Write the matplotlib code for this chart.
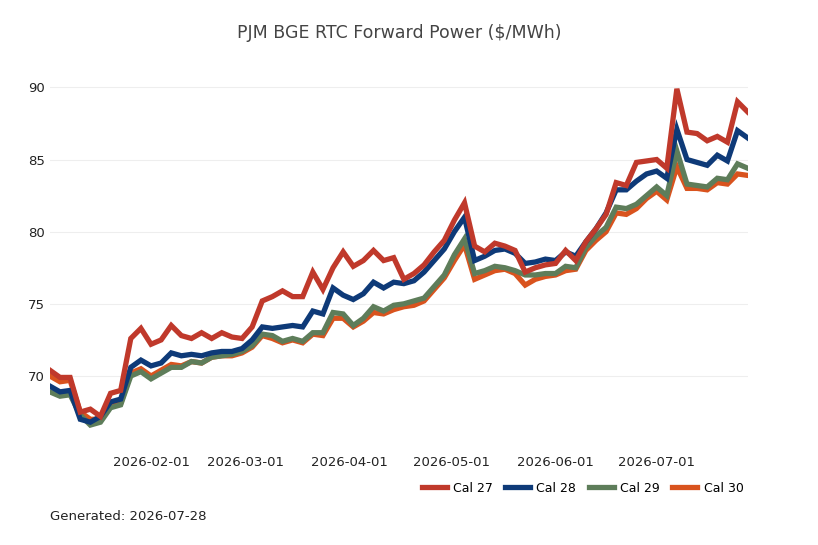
import matplotlib
matplotlib.use("Agg")
import matplotlib.pyplot as plt
import matplotlib.dates as mdates
import pandas as pd

dates = pd.date_range("2026-01-02", periods=70, freq="3D")
cal27 = [70.4, 69.9, 69.9, 67.5, 67.7, 67.2, 68.8, 69.0, 72.6, 73.3, 72.2, 72.5, 73.5, 72.8, 72.6, 73.0, 72.6, 73.0, 72.7, 72.6,
         73.4, 75.2, 75.5, 75.9, 75.5, 75.5, 77.2, 76.0, 77.5, 78.6, 77.6, 78.0, 78.7, 78.0, 78.2, 76.7, 77.1, 77.7, 78.6, 79.4,
         80.8, 82.0, 79.0, 78.6, 79.2, 79.0, 78.7, 77.2, 77.5, 77.7, 77.8, 78.7, 78.0, 79.3, 80.2, 81.2, 83.4, 83.2, 84.8, 84.9,
         85.0, 84.4, 89.9, 86.9, 86.8, 86.3, 86.6, 86.2, 89.0, 88.3]
cal28 = [69.3, 68.9, 69.0, 67.0, 66.8, 67.2, 68.2, 68.4, 70.6, 71.1, 70.7, 70.9, 71.6, 71.4, 71.5, 71.4, 71.6, 71.7, 71.7, 71.9,
         72.5, 73.4, 73.3, 73.4, 73.5, 73.4, 74.5, 74.3, 76.1, 75.6, 75.3, 75.7, 76.5, 76.1, 76.5, 76.4, 76.6, 77.2, 78.0, 78.8,
         80.0, 81.0, 78.0, 78.3, 78.7, 78.8, 78.5, 77.8, 77.9, 78.1, 78.0, 78.6, 78.3, 79.3, 80.2, 81.3, 82.9, 82.9, 83.5, 84.0,
         84.2, 83.7, 87.1, 85.0, 84.8, 84.6, 85.3, 84.9, 87.0, 86.5]
cal29 = [68.9, 68.6, 68.7, 67.3, 66.6, 66.8, 67.8, 68.0, 70.0, 70.3, 69.8, 70.2, 70.6, 70.6, 71.0, 70.9, 71.3, 71.4, 71.5, 71.7,
         72.1, 72.9, 72.8, 72.4, 72.6, 72.4, 73.0, 73.0, 74.4, 74.3, 73.5, 74.0, 74.8, 74.5, 74.9, 75.0, 75.2, 75.4, 76.2, 77.0,
         78.4, 79.5, 77.1, 77.3, 77.6, 77.5, 77.3, 77.0, 77.0, 77.1, 77.1, 77.6, 77.5, 78.9, 79.7, 80.3, 81.7, 81.6, 81.9, 82.5,
         83.1, 82.5, 85.6, 83.3, 83.2, 83.1, 83.7, 83.6, 84.7, 84.4]
cal30 = [70.0, 69.6, 69.7, 67.5, 67.0, 67.0, 67.9, 68.1, 70.2, 70.5, 70.0, 70.4, 70.8, 70.7, 71.0, 70.9, 71.3, 71.4, 71.4, 71.6,
         72.0, 72.8, 72.6, 72.3, 72.5, 72.3, 72.9, 72.8, 74.0, 74.0, 73.4, 73.8, 74.4, 74.3, 74.6, 74.8, 74.9, 75.2, 76.0, 76.8,
         78.0, 79.1, 76.7, 77.0, 77.3, 77.4, 77.1, 76.3, 76.7, 76.9, 77.0, 77.3, 77.4, 78.7, 79.4, 80.0, 81.3, 81.2, 81.6, 82.3,
         82.8, 82.2, 84.5, 83.0, 83.0, 82.9, 83.4, 83.3, 84.0, 83.9]
series = [("Cal 27", cal27, "#C0392B"), ("Cal 28", cal28, "#0E3A78"),
          ("Cal 29", cal29, "#5E7D5A"), ("Cal 30", cal30, "#D9531E")]

fig = plt.figure(figsize=(8.18, 5.45), dpi=100)
ax = fig.add_axes([0.061, 0.183, 0.853, 0.707])
for name, vals, col in reversed(series):
    ax.plot(dates, vals, color=col, lw=3.8, label=name, solid_joinstyle="miter")
handles, labels = ax.get_legend_handles_labels()
ax.legend(handles[::-1], labels[::-1], ncol=4, frameon=False, loc="upper right",
          bbox_to_anchor=(1.01, -0.065), fontsize=9, handlelength=2, columnspacing=1.0, handletextpad=0.5)
ax.set_xlim(dates[0], dates[-1])
ax.set_ylim(65.2, 91.9)
ax.set_yticks([70, 75, 80, 85, 90])
ax.xaxis.set_major_locator(mdates.MonthLocator(bymonth=[2, 3, 4, 5, 6, 7]))
ax.xaxis.set_major_formatter(mdates.DateFormatter("%Y-%m-%d"))
for s in ax.spines.values():
    s.set_visible(False)
ax.grid(axis="y", color="#eeeeee", lw=0.8)
ax.set_axisbelow(True)
ax.tick_params(length=0, labelsize=9.5, colors="#222222")
ax.tick_params(axis="x", pad=8)
fig.text(0.488, 0.93, "PJM BGE RTC Forward Power ($/MWh)", ha="center", fontsize=12.5, color="#444444")
fig.text(0.061, 0.045, "Generated: 2026-07-28", fontsize=9.5, color="#222222")
fig.savefig("out.png", dpi=100)
